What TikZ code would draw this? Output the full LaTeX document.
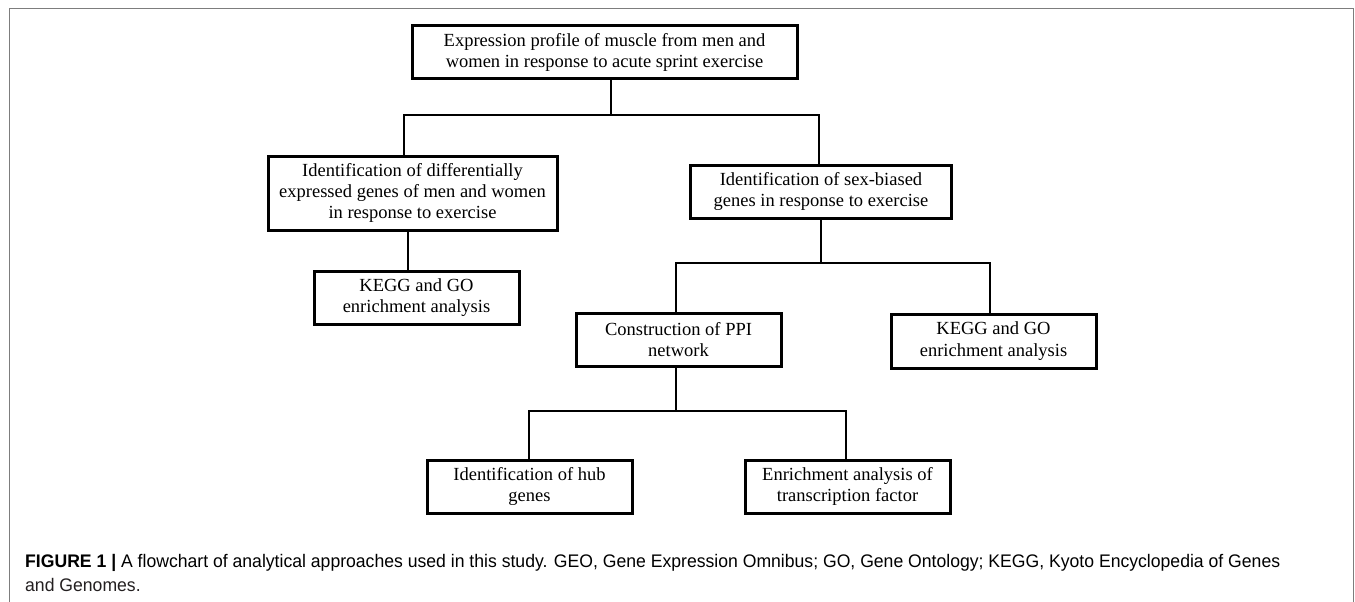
\documentclass[tikz,border=0pt]{standalone}
\usepackage{fontspec}
\usepackage{graphicx}
\setmainfont{Liberation Serif}
\newfontfamily\capfont{Liberation Sans}
\newsavebox\capbox
\definecolor{framegray}{RGB}{125,125,125}
\definecolor{captext}{RGB}{35,31,32}
\tikzset{
  fbox/.style={draw=black, line width=3pt, inner sep=0pt, align=center,
    font=\fontsize{18.5}{21.3}\selectfont},
  conn/.style={draw=black, line width=2.8pt},
  capnode/.style={anchor=base west, inner sep=0pt, text=captext}
}
\begin{document}
\sbox\capbox{\capfont\fontsize{18.2}{24}\selectfont\textbf{FIGURE 1 |} A flowchart of analytical approaches used in this study. GEO, Gene Expression Omnibus; GO, Gene Ontology; KEGG, Kyoto Encyclopedia of Genes}%
\pgfmathsetmacro\capscale{1255/\the\wd\capbox}%
\begin{tikzpicture}[x=1pt,y=-1pt]
\useasboundingbox (0,0) rectangle (1355,602);
% outer frame
\draw[framegray, line width=1.6pt] (9.3,603) -- (9.3,8.7) -- (1353.4,8.7) -- (1353.4,603);

% boxes
\node[fbox, minimum width=385pt, minimum height=53pt] (top) at (604.5,52.5)
  {Expression profile of muscle from men and\\women in response to acute sprint exercise};
\node[fbox, minimum width=289pt, minimum height=74pt] (diff) at (412.5,193)
  {Identification of differentially\\expressed genes of men and women\\in response to exercise};
\node[fbox, minimum width=261.5pt, minimum height=53pt] (sex) at (821,191.5)
  {Identification of sex-biased\\genes in response to exercise};
\node[fbox, minimum width=205pt, minimum height=53pt] (kegga) at (416.5,297.5)
  {KEGG and GO\\enrichment analysis};
\node[fbox, minimum width=205pt, minimum height=53pt] (ppi) at (678.5,339.5)
  {Construction of PPI\\network};
\node[fbox, minimum width=205pt, minimum height=54pt] (keggb) at (993.5,341)
  {KEGG and GO\\enrichment analysis};
\node[fbox, minimum width=205pt, minimum height=53pt] (hub) at (529.5,486.5)
  {Identification of hub\\genes};
\node[fbox, minimum width=205pt, minimum height=53pt] (tf) at (847.5,486.5)
  {Enrichment analysis of\\transcription factor};

% junction coordinates
\coordinate (j1) at (611,115);
\coordinate (j1l) at (404,115);
\coordinate (j1r) at (819,115);
\coordinate (jd) at (408,250);
\coordinate (j2) at (821,263);
\coordinate (j2l) at (676,263);
\coordinate (j2r) at (990,263);
\coordinate (j3) at (676,411);
\coordinate (j3l) at (529,411);
\coordinate (j3r) at (846,411);

% connectors
\draw[conn] (j1 |- top.south) -- (j1);
\draw[conn] (j1l |- diff.north) -- (j1l) -- (j1r) -- (j1r |- sex.north);
\draw[conn] (jd |- diff.south) -- (jd |- kegga.north);
\draw[conn] (j2 |- sex.south) -- (j2);
\draw[conn] (j2l |- ppi.north) -- (j2l) -- (j2r) -- (j2r |- keggb.north);
\draw[conn] (j3 |- ppi.south) -- (j3);
\draw[conn] (j3l |- hub.north) -- (j3l) -- (j3r) -- (j3r |- tf.north);

% caption
\node[capnode] (cap1) at (25,567) {\scalebox{\capscale}[1]{\usebox\capbox}};
\node[capnode] (cap2) at (25,591) {\scalebox{\capscale}[1]{\capfont\fontsize{18.2}{24}\selectfont and Genomes.}};
\end{tikzpicture}
\end{document}
